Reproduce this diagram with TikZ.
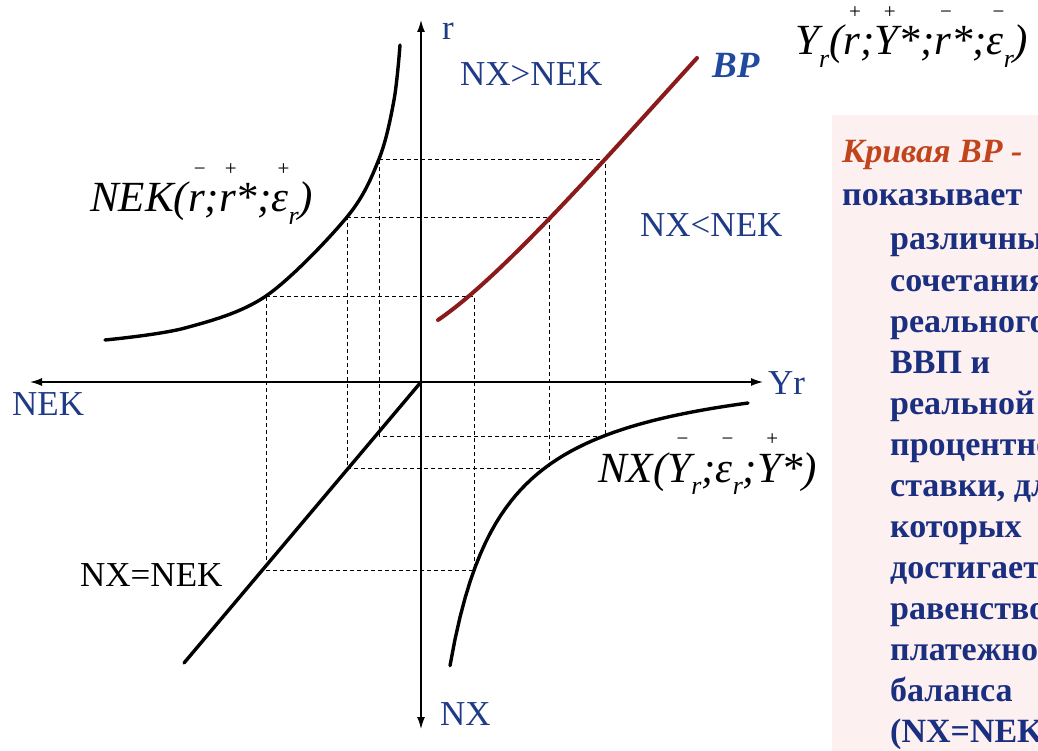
\documentclass[tikz,border=0pt]{standalone}
\usepackage{fontspec}
\setmainfont{Liberation Serif}
\usetikzlibrary{arrows.meta}
\definecolor{navy}{HTML}{1F3A86}
\definecolor{bodyblue}{HTML}{1B2F80}
\definecolor{bpred}{HTML}{8B1A1A}
\definecolor{bpblue}{HTML}{1F4A9E}
\definecolor{orng}{HTML}{C1441C}
\definecolor{pinkbg}{HTML}{FCF0F1}
\newcommand\ovs[2]{\setbox0\hbox{#2}\rlap{\hbox to\wd0{\hss\kern0.15em\raisebox{0.85em}{\fontsize{21}{21}\selectfont\upshape #1}\hss}}\box0}
\newcommand\sbr{\raisebox{-0.28em}{\fontsize{26}{26}\selectfont r}}
\tikzset{
  axis/.style={line width=1.4pt,-{Latex[length=12pt,width=8pt]}},
  curve/.style={line width=3.4pt,line cap=round},
  bpcurve/.style={line width=4pt,color=bpred,line cap=round},
  grid/.style={line width=0.9pt,dash pattern=on 4pt off 3pt},
  lbl/.style={inner sep=0pt,anchor=base west,text=navy,font=\fontsize{35}{35}\selectfont},
  frm/.style={inner sep=0pt,anchor=base west,font=\fontsize{43}{43}\selectfont\itshape},
  body/.style={inner sep=0pt,anchor=base west,text=bodyblue,font=\fontsize{34}{34}\selectfont\bfseries}
}
\begin{document}
\begin{tikzpicture}[x=1pt,y=-1pt]
\useasboundingbox (0,0) rectangle (1038,751);
\fill[white] (0,0) rectangle (1038,751);
\fill[pinkbg] (832,115) rectangle (1038,751);
% axes
\coordinate (O) at (421,382);
\coordinate (top) at (421,20);
\coordinate (bot) at (421,729);
\coordinate (left) at (30,382);
\coordinate (right) at (763,382);
\draw[axis] (O) -- (top);
\draw[axis] (O) -- (bot);
\draw[axis] (O) -- (left);
\draw[axis] (O) -- (right);
% dashed guides
\foreach \xl/\xr/\yt/\yb in {266/474/296/570, 347/549/217/468, 379/605/159/436}{
  \draw[grid] (\xl,\yt) -- (\xr,\yt) -- (\xr,\yb) -- (\xl,\yb) -- cycle;
}
% curves
\draw[curve] plot[smooth,tension=0.55] coordinates {(105,340) (185,328) (266,296) (347,217) (379,159) (394,100) (400,45)};
\draw[curve] plot[domain=450:748,samples=60] (\x,{355.4+167.55*(100/(\x-396))});
\coordinate (nxe) at (184,663);
\draw[curve] (O) -- (nxe);
\coordinate (bps) at (438,320);
\coordinate (bpe) at (697,58);
\draw[bpcurve] (bps) .. controls (500,278) and (600,165) .. (bpe);
% labels
\node[lbl] (lr) at (442,40) {r};
\node[lbl] (lgt) at (460,86) {NX>NEK};
\node[lbl] (llt) at (640,237) {NX<NEK};
\node[lbl] (lnek) at (12,415) {NEK};
\node[lbl] (lyr) at (768,394) {Yr};
\node[lbl] (lnx) at (440,725) {NX};
\node[lbl,text=black] (leq) at (80,586) {NX=NEK};
\node[inner sep=0pt,anchor=base west,text=bpblue,font=\fontsize{37}{37}\selectfont\bfseries\itshape] (lbp) at (712,78) {BP};
\node[frm] (fy) at (795,55) {Y\sbr(\ovs{+}{r};\ovs{+}{Y}*;\ovs{−}{r}*;\ovs{−}{ε}\sbr)};
\node[frm] (fnek) at (90,212) {NEK(\ovs{−}{r};\ovs{+}{r}*;\ovs{+}{ε}\sbr)};
\node[frm] (fnx) at (598,482) {NX(\ovs{−}{Y}\sbr;\ovs{−}{ε}\sbr;\ovs{+}{Y}*)};
% right text
\node[body,text=orng,font=\fontsize{34}{34}\selectfont\bfseries\itshape] (t0) at (842,163) {Кривая BP -};
\node[body] (t1) at (842,206) {показывает};
\foreach \t/\y [count=\i from 2] in {различные/250, сочетания/291, реального/332, ВВП и/373, реальной/414, процентной/455, {ставки, для}/496, которых/537, достигается/578, равенство/619, платежного/660, баланса/701, (NX=NEK)/742}{
  \node[body] (t\i) at (890,\y) {\t};
}
\end{tikzpicture}
\end{document}
